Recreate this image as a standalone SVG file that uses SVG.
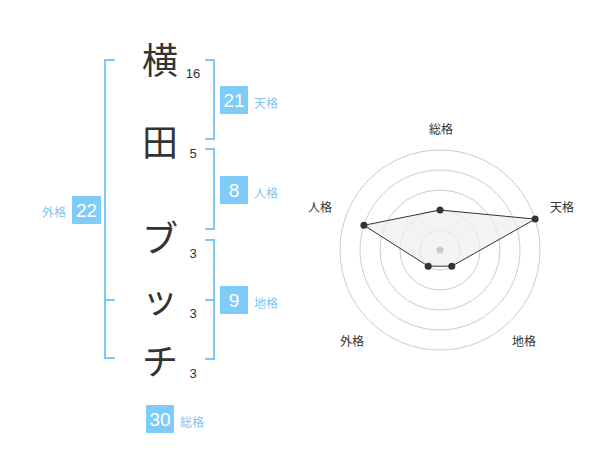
<svg xmlns="http://www.w3.org/2000/svg" width="600" height="470" viewBox="0 0 600 470">
<style>
.ch{font-family:"Noto Sans CJK JP","Noto Sans",sans-serif;font-size:36px;fill:#333;text-anchor:middle}
.num{font-family:"Liberation Sans",Arial,sans-serif;font-size:13px;fill:#333;text-anchor:middle}
.box{fill:#80ccf9}
.bn{font-family:"Liberation Sans",Arial,sans-serif;font-size:19px;fill:#fff;text-anchor:middle}
.lb{font-family:"Noto Sans CJK JP",sans-serif;font-size:12px;fill:#7fc6f2}
.br{fill:none;stroke:#80c9f5;stroke-width:2}
.ring{fill:none;stroke:#cccccc;stroke-width:1}
.rl{font-family:"Noto Sans CJK JP",sans-serif;font-size:12px;fill:#333;text-anchor:middle}
.pt{fill:#333}
</style>
<rect width="600" height="470" fill="#fff"/>
<g id="brackets">
<path class="br" d="M115,60 H105 V358 H115 M105,300 H115"/>
<path class="br" d="M205,60 H214 V139 H205"/>
<path class="br" d="M205,149 H214 V229 H205"/>
<path class="br" d="M205,240 H214 V359 H205 M214,300 H205"/>
</g>
<g id="name">
<text class="ch" x="160" y="74">横</text>
<text class="ch" x="160" y="156">田</text>
<text class="ch" x="160" y="252">ブ</text>
<text class="ch" x="160" y="313">ッ</text>
<text class="ch" x="160" y="375">チ</text>
<text class="num" x="193" y="78">16</text>
<text class="num" x="193" y="158">5</text>
<text class="num" x="193" y="258">3</text>
<text class="num" x="193" y="318">3</text>
<text class="num" x="193" y="378">3</text>
</g>
<g id="tenkaku">
<rect class="box" x="220" y="86" width="28" height="28"/>
<text class="bn" x="234" y="107">21</text>
<text class="lb" x="254" y="108">天格</text>
</g>
<g id="jinkaku">
<rect class="box" x="220" y="176" width="28" height="28"/>
<text class="bn" x="234" y="197">8</text>
<text class="lb" x="254" y="198">人格</text>
</g>
<g id="chikaku">
<rect class="box" x="220" y="286" width="28" height="28"/>
<text class="bn" x="234" y="307">9</text>
<text class="lb" x="254" y="308">地格</text>
</g>
<g id="gaikaku">
<rect class="box" x="72" y="196" width="29" height="28"/>
<text class="bn" x="86.5" y="217">22</text>
<text class="lb" x="66" y="217" text-anchor="end">外格</text>
</g>
<g id="soukaku">
<rect class="box" x="146" y="405" width="28" height="28"/>
<text class="bn" x="160" y="426">30</text>
<text class="lb" x="180" y="427">総格</text>
</g>
<g id="radar">
<circle class="ring" cx="440" cy="250" r="20"/>
<circle class="ring" cx="440" cy="250" r="40"/>
<circle class="ring" cx="440" cy="250" r="60"/>
<circle class="ring" cx="440" cy="250" r="80"/>
<circle class="ring" cx="440" cy="250" r="100"/>
<polygon points="440,210 535.1,219.1 451.8,266.2 428.2,266.2 363.9,225.3" fill="#eeeeee" fill-opacity="0.7" stroke="#333" stroke-width="1"/>
<circle cx="440" cy="250" r="3.5" fill="#cccccc"/>
<circle class="pt" cx="440" cy="210" r="3.5"/>
<circle class="pt" cx="535.1" cy="219.1" r="3.5"/>
<circle class="pt" cx="451.8" cy="266.2" r="3.5"/>
<circle class="pt" cx="428.2" cy="266.2" r="3.5"/>
<circle class="pt" cx="363.9" cy="225.3" r="3.5"/>
<text class="rl" x="441" y="134">総格</text>
<text class="rl" x="562" y="212">天格</text>
<text class="rl" x="320" y="212">人格</text>
<text class="rl" x="352" y="346">外格</text>
<text class="rl" x="524" y="346">地格</text>
</g>
</svg>
